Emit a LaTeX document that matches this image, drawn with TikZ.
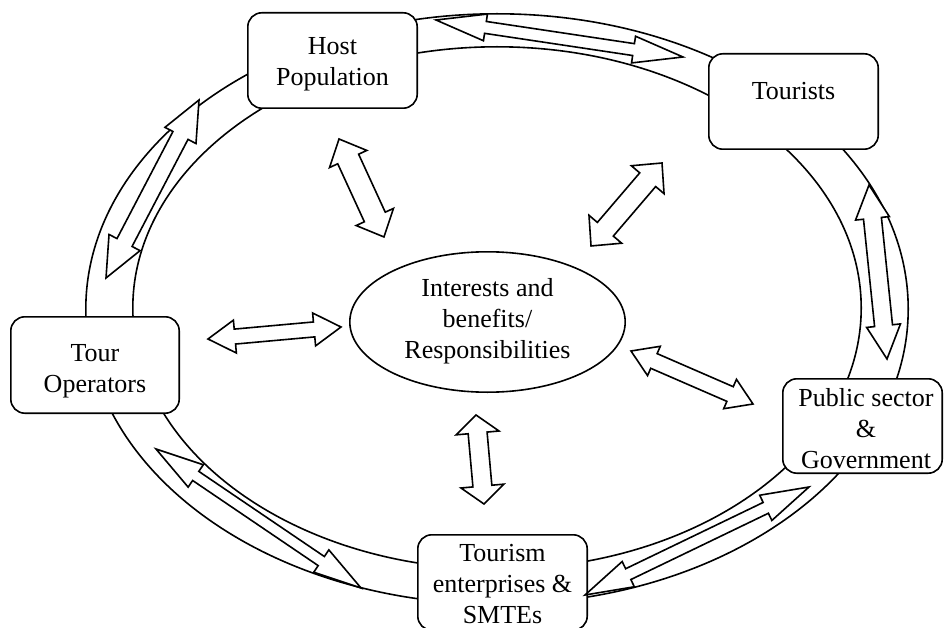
\documentclass[tikz,border=0pt]{standalone}
\usepackage{fontspec}
\setmainfont{Liberation Serif}
\usetikzlibrary{calc,shapes.geometric}

% Hollow double-headed block arrow between two named points.
% #1,#2: end points; #3: half shaft width; #4: half head width; #5: head length
\newcommand\twoway[5]{%
  \path let \p1=(#1), \p2=(#2) in
    \pgfextra{%
      \pgfmathsetmacro\twowayang{atan2(\y2-\y1,\x2-\x1)}%
      \pgfmathsetmacro\twowaylen{veclen(\x2-\x1,\y2-\y1)}%
      \global\let\twowayangle\twowayang
      \global\let\twowaylength\twowaylen};
  \draw[twoarrow, shift={(#1)}, rotate=\twowayangle]
    (0,0) -- (#5,#4) -- (#5,#3) -- (\twowaylength-#5,#3) -- (\twowaylength-#5,#4)
    -- (\twowaylength,0) -- (\twowaylength-#5,-#4) -- (\twowaylength-#5,-#3)
    -- (#5,-#3) -- (#5,-#4) -- cycle;
}

\begin{document}
\begin{tikzpicture}[x=1pt,y=-1pt,
  ring/.style={draw, line width=1.6pt},
  party/.style={draw, fill=white, rounded corners=14pt, line width=1.6pt, inner sep=0pt},
  hub/.style={draw, fill=white, ellipse, line width=1.6pt, inner sep=0pt},
  lbl/.style={align=center, inner sep=0pt, font=\fontsize{26}{31}\selectfont},
  twoarrow/.style={draw, fill=white, line width=1.6pt, line join=miter, miter limit=10}]

\useasboundingbox (0,0) rectangle (944,628);
\clip (0,0) rectangle (944,628);

% the ring linking the stakeholders
\draw[ring] (497,309) ellipse [x radius=411.2pt, y radius=295.2pt];
\draw[ring] (497,308) ellipse [x radius=364.2pt, y radius=261.2pt];

% centre
\node[hub, minimum width=275.4pt, minimum height=140.4pt] (core) at (487.5,322) {};
\node[lbl] (coretxt) at (487.5,321.4) {Interests and\\benefits/\\Responsibilities};

% stakeholders on the ring
\node[party, minimum width=169.4pt, minimum height=95.4pt] (host) at (332.5,60.5) {};
\node[lbl] (hosttxt) at (332.5,64.4) {Host\\Population};

\node[party, minimum width=169.4pt, minimum height=95.4pt] (tourists) at (793.5,101.5) {};
\node[lbl, anchor=base] (touriststxt) at (793.5,100) {Tourists};

\node[party, minimum width=168.4pt, minimum height=96.4pt] (operators) at (95,365) {};
\node[lbl] (operatorstxt) at (95,371.2) {Tour\\Operators};

\node[party, minimum width=159.4pt, minimum height=94.4pt] (public) at (862.5,426) {};
\node[lbl] (publictxt) at (866,428.2) {Public sector\\\&\\Government};

\node[party, minimum width=169.4pt, minimum height=95.4pt] (smte) at (502.5,582.5) {};
\node[lbl] (smtetxt) at (502.5,583.8) {Tourism\\enterprises \&\\SMTEs};

% arrow end points
\coordinate (hT1) at (436,20);   \coordinate (hT2) at (683,57);
\coordinate (hO1) at (199,100);  \coordinate (hO2) at (106,278);
\coordinate (tP1) at (869,185);  \coordinate (tP2) at (887,359);
\coordinate (oS1) at (156,449);  \coordinate (oS2) at (361,588);
\coordinate (pS1) at (809,487);  \coordinate (pS2) at (585,595);
\coordinate (oC1) at (208,339);  \coordinate (oC2) at (341,327);
\coordinate (hC1) at (339,139);  \coordinate (hC2) at (384,237);
\coordinate (tC1) at (662,163);  \coordinate (tC2) at (591,246);
\coordinate (cP1) at (631,351);  \coordinate (cP2) at (753,404);
\coordinate (cS1) at (476,415);  \coordinate (cS2) at (484,504);

% exchanges along the ring
\twoway{hT1}{hT2}{6}{13.5}{50}
\twoway{hO1}{hO2}{8.5}{17.5}{40}
\twoway{tP1}{tP2}{9}{17}{33.5}
\twoway{oS1}{oS2}{5.5}{13.5}{48}
\twoway{pS1}{pS2}{6}{14}{48}

% exchanges with the centre
\twoway{oC1}{oC2}{7.5}{16.5}{27}
\twoway{hC1}{hC2}{11.5}{20.5}{22}
\twoway{tC1}{tC2}{10.5}{21.5}{22}
\twoway{cP1}{cP2}{8}{16}{25}
\twoway{cS1}{cS2}{9.5}{21.5}{18}
\end{tikzpicture}
\end{document}
